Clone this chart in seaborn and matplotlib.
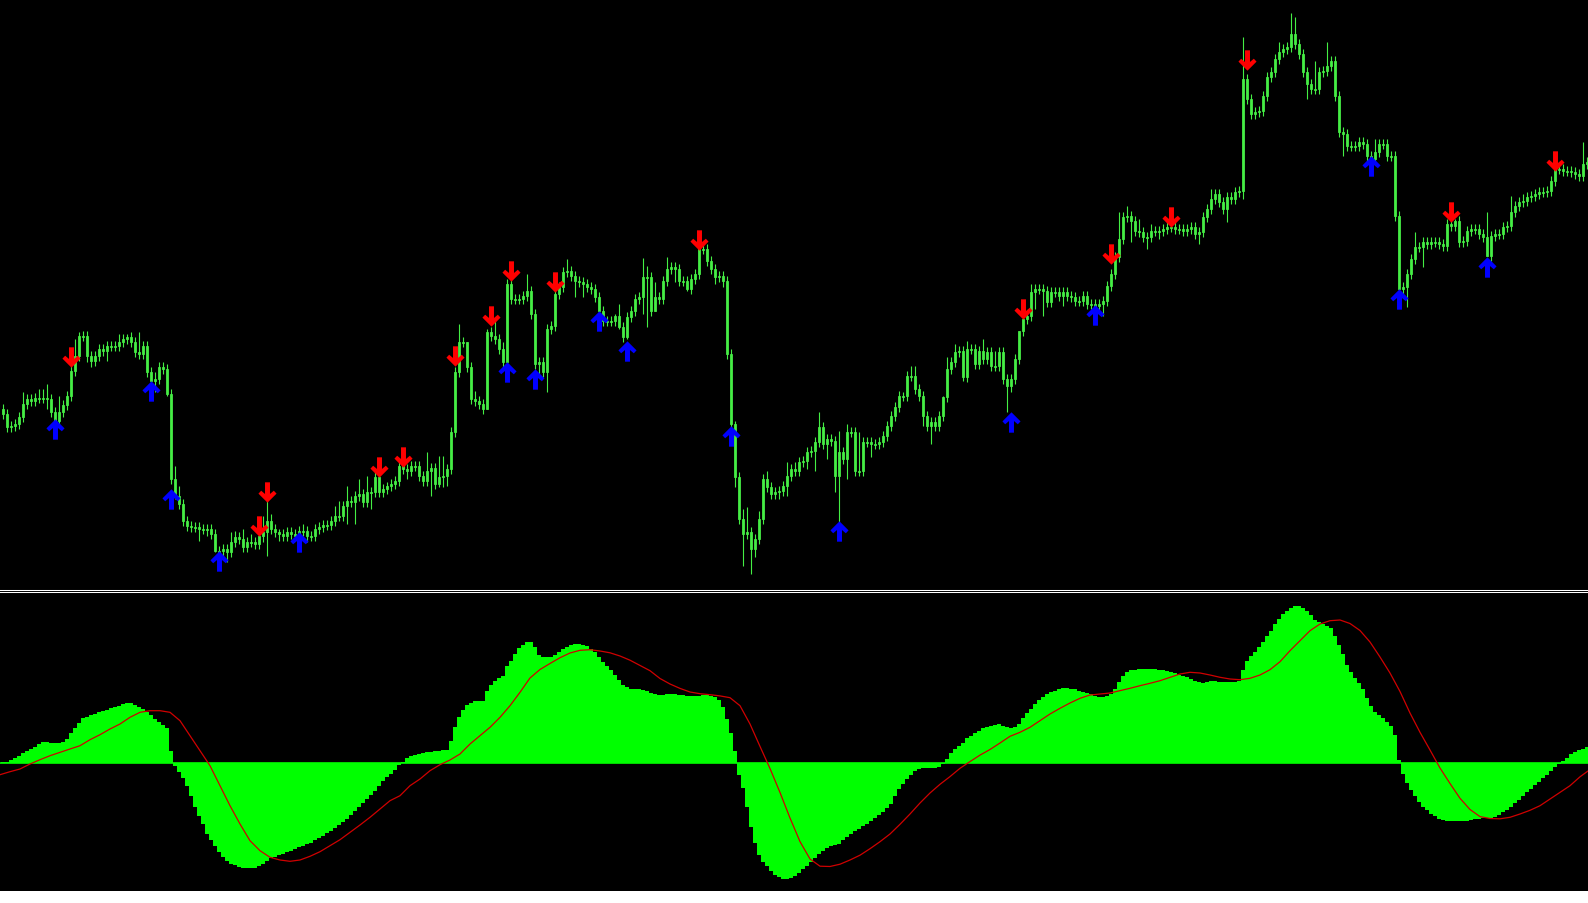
import numpy as np
import matplotlib
matplotlib.use("Agg")
import matplotlib.pyplot as plt
from matplotlib.path import Path
from matplotlib.lines import Line2D
from matplotlib.patches import Rectangle
import seaborn as sns

# closing level of every bar (screen rows, 0 = top)
close_a = [415, 428, 427, 425, 418, 405, 400, 402, 399, 399,
           399, 400, 413, 422, 413, 406, 397, 372, 357, 337,
           337, 357, 362, 357, 350, 352, 347, 347, 347, 343,
           340, 338, 343, 353, 355, 347, 373, 382, 380, 368,
           370, 395, 480, 497, 505, 522, 527, 528, 528, 530,
           530, 530, 535, 552, 552, 550, 553, 543, 538, 540,
           548, 543, 543, 545, 537, 533, 522, 530, 533, 535,
           537, 533, 535, 537, 532, 532, 537, 537, 530, 528,
           526, 526, 522, 517, 517, 507, 502, 503, 497, 495,
           503, 493, 493, 478, 493, 490, 487, 485, 482, 467]
close_b = [470, 472, 467, 467, 477, 482, 472, 469, 485, 478,
           477, 470, 433, 373, 343, 343, 368, 400, 402, 405,
           410, 333, 337, 340, 350, 363, 285, 300, 300, 300,
           297, 292, 315, 365, 363, 373, 330, 327, 295, 288,
           273, 272, 277, 282, 283, 285, 288, 290, 298, 312,
           322, 322, 322, 317, 328, 338, 318, 312, 300, 298,
           278, 278, 312, 298, 300, 282, 270, 268, 270, 282,
           282, 290, 280, 275, 250, 250, 262, 270, 278, 277,
           282, 355, 425, 478, 520, 535, 533, 550, 540, 520,
           480, 488, 495, 493, 492, 487, 477, 470, 472, 463]
close_c = [462, 453, 452, 443, 428, 445, 440, 442, 477, 453,
           460, 433, 433, 472, 472, 443, 443, 445, 445, 443,
           437, 427, 417, 408, 397, 397, 377, 377, 390, 397,
           417, 427, 423, 427, 417, 398, 370, 363, 353, 352,
           378, 350, 350, 365, 352, 360, 353, 367, 367, 353,
           380, 387, 380, 360, 332, 320, 317, 293, 290, 290,
           292, 303, 293, 293, 297, 293, 297, 298, 302, 302,
           297, 305, 305, 307, 305, 302, 287, 275, 258, 240,
           218, 217, 222, 232, 233, 238, 238, 232, 232, 232,
           230, 228, 228, 230, 230, 232, 230, 228, 235, 233]
close_d = [218, 210, 200, 195, 203, 210, 198, 200, 193, 192,
           80, 100, 115, 113, 112, 97, 78, 73, 60, 53,
           50, 48, 35, 45, 55, 73, 85, 90, 90, 73,
           72, 67, 62, 97, 133, 135, 147, 147, 147, 143,
           145, 157, 160, 153, 145, 145, 157, 157, 217, 290,
           288, 275, 260, 248, 248, 243, 245, 243, 243, 245,
           247, 225, 227, 222, 243, 242, 232, 230, 230, 235,
           238, 257, 237, 235, 235, 228, 227, 213, 207, 203,
           202, 198, 197, 195, 193, 193, 192, 182, 170, 170,
           172, 172, 173, 175, 177, 165, 163]
first_open = 410

# long wicks that stand out (bar -> tip level)
wick_top = {5: 393, 9: 390, 10: 390, 11: 385, 14: 397, 18: 340, 19: 333, 29: 335,
            31: 335, 34: 333, 38: 373, 40: 363, 43: 467, 44: 487, 57: 533, 58: 532,
            60: 530, 62: 535, 64: 533, 65: 517, 66: 502, 67: 515, 69: 530, 75: 525,
            83: 507, 84: 502, 86: 487, 89: 480, 91: 477, 94: 473, 96: 483,
            106: 453, 109: 457, 110: 457, 114: 325, 116: 362, 118: 392, 121: 330,
            123: 322, 125: 343, 131: 275, 132: 287, 138: 283, 141: 260, 153: 315,
            154: 305, 160: 259, 161: 267, 163: 283, 166: 258, 174: 248, 183: 422,
            185: 510, 186: 508, 189: 512, 191: 472, 196: 463, 198: 463,
            204: 413, 209: 432, 211: 425, 214: 433, 225: 393, 227: 367, 228: 367,
            235: 397, 236: 358, 238: 345, 241: 342, 245: 340, 248: 352, 254: 350,
            257: 285, 261: 287, 279: 213, 281: 207, 284: 220, 287: 225,
            302: 190, 304: 190, 310: 38, 314: 107, 319: 43, 322: 14, 323: 18,
            328: 62, 331: 43, 343: 140, 353: 233, 361: 220, 363: 220, 367: 225,
            371: 213, 377: 197, 380: 195, 395: 143}
wick_bottom = {11: 410, 13: 425, 21: 363, 22: 368, 26: 362, 34: 360, 37: 400, 38: 393,
               41: 397, 43: 500, 49: 542, 51: 537, 53: 553, 56: 563, 60: 553, 65: 543,
               66: 557, 69: 542, 76: 543, 86: 525, 88: 525, 92: 510,
               101: 480, 107: 497, 109: 488, 110: 488, 111: 487, 121: 372, 134: 375,
               136: 393, 143: 298, 145: 298, 154: 330, 156: 340, 160: 315, 161: 328,
               163: 312, 168: 283, 171: 292, 178: 285, 180: 288, 183: 488, 185: 567,
               187: 575, 188: 558, 194: 500, 196: 497,
               201: 470, 203: 472, 206: 460, 208: 493, 209: 523, 211: 480, 217: 458,
               230: 427, 232: 445, 240: 382, 248: 372, 251: 413, 252: 393, 258: 310,
               260: 317, 265: 307, 275: 317, 282: 243, 286: 250, 289: 240, 299: 245,
               300: 238, 306: 223, 310: 200, 326: 100, 335: 157, 337: 152, 349: 308,
               351: 308, 355: 268, 371: 257}

# signal arrows: bar index and level
sell_bars = [17, 64, 66, 94, 100, 113, 122, 127, 138, 174, 255, 277, 292, 311, 362, 388]
sell_level = [358, 527, 493, 468, 458, 357, 317, 272, 283, 241, 310, 255, 218, 61, 213, 162]
buy_bars = [13, 37, 42, 54, 74, 126, 133, 149, 156, 182, 209, 252, 273, 342, 349, 371]
buy_level = [430, 392, 500, 562, 543, 373, 380, 322, 352, 437, 532, 423, 316, 167, 300, 268]

# oscillator histogram, one value per bar
hist = [1.5, 1.5, 3, 5, 7, 10, 12, 14, 16, 19,
        21, 21, 20, 20, 20, 21, 24, 30, 35, 40,
        44.7, 46.5, 48, 49.5, 51, 52, 53.5, 55, 56, 57.5,
        59, 60, 60, 58, 56.5, 54, 51.5, 48, 44.5, 41,
        38, 35, 12, -3, -9, -15, -23, -33, -44, -53,
        -61, -71, -77, -83, -89, -94, -98, -100.5, -102, -103.5,
        -104.5, -105, -105, -104.5, -103, -100.5, -98, -95, -93.5, -92,
        -90.5, -89, -87.5, -86, -84, -82.5, -81, -79.5, -77, -75,
        -72.5, -70, -67.5, -64.5, -62, -59, -56, -52, -48, -44,
        -40, -36, -32, -28, -23, -18, -14, -11, -7, -2,
        1.3, 5, 7, 8, 9, 10, 11, 11.5, 12, 12.3,
        12.8, 13.3, 22, 36, 46, 53, 58, 60.5, 62, 62.3,
        62.3, 72, 78, 82.3, 85, 87, 96.7, 102, 109, 115,
        118.5, 121.3, 121.3, 115.7, 108, 105.7, 105.7, 106, 108, 111,
        114.5, 116.3, 118, 119, 119, 118, 116.7, 114.5, 111, 106,
        101.5, 97.3, 93, 88.5, 83, 78.5, 75.7, 74.5, 74, 74.5,
        73.5, 72.3, 70.5, 69.2, 68, 68.5, 69, 69.5, 69.5, 68.5,
        68, 67.3, 67, 67, 67.3, 68, 68.3, 67.5, 65.7, 63,
        56, 44, 30, 12.3, -12, -25, -44, -64, -80, -92,
        -98.5, -103, -108, -111.5, -114, -115.5, -116, -114.8, -112.5, -110,
        -106, -103, -98.5, -94.5, -91, -87.7, -85, -82.5, -81.5, -80.5,
        -77, -74, -70.5, -68, -65.5, -63, -60.5, -58, -55, -52,
        -48.5, -44.5, -40.5, -33, -26, -21, -16, -12, -7.7, -6.3,
        -5.3, -5.3, -5.2, -4.7, -3.7, -0.7, 4.3, 10, 14, 17.5,
        20.5, 25, 27.5, 30, 32.5, 35, 36.5, 37.3, 38, 39,
        37.5, 35.7, 35, 36, 39.5, 45, 50, 54, 59.5, 63,
        66.3, 68.8, 71, 72.5, 74, 74.7, 74.7, 74.5, 73.7, 72.5,
        71.3, 70, 68.7, 67.3, 66.3, 65.9, 67.3, 69, 74, 81,
        87, 91.3, 92.8, 93.5, 93.8, 94, 94, 94, 93.8, 93.4,
        93, 92, 91, 89.7, 88.5, 87.3, 86, 84.2, 82.3, 80.7,
        80.3, 81.3, 82.5, 82.3, 81, 81, 81.3, 81.3, 81, 82,
        93, 102, 106.7, 110.7, 116, 121.3, 126.7, 132.3, 139, 144.3,
        148.7, 152.3, 155, 156.7, 156.7, 155, 152.3, 148, 143.3, 140.7,
        139, 137.5, 135, 127, 118.5, 109, 98.5, 91, 85, 80.5,
        74, 65.5, 57.5, 51, 48, 45.5, 41.5, 37, 28, 3,
        -11, -19.5, -26.5, -32.5, -38.5, -43.5, -47.3, -50.5, -53, -55.5,
        -57.2, -57.7, -57.7, -57.7, -57.7, -57.7, -57.6, -56.7, -55.9, -55.5,
        -55.3, -55.3, -54.8, -53.8, -52, -49.3, -46.5, -43.5, -40, -36.7,
        -33, -29.3, -25.5, -22, -18.5, -15, -11.5, -7.7, -4, -0.5,
        2.3, 5.5, 8.8, 11.2, 13.3, 14.5, 15.7]

# signal line, read every 2.5 bars across the pane (last value at the right edge)
signal = [-11.7, -8.7, -6, -1, 3.3, 7.3, 10.7, 14, 17.3, 23.3,
          28.3, 34, 39, 45.7, 50.7, 52.3, 52.3, 50.7, 42.3, 27.3,
          12.3, -2.7, -22.7, -42.7, -61, -77.7, -87.7, -94.3, -97, -98.3,
          -97, -93.3, -88.7, -82.7, -76.7, -69.3, -62, -54.3, -46, -37.7,
          -32.7, -22.7, -16, -7.7, -1.7, 3, 9, 19, 27.3, 35.7,
          45.7, 57.3, 70.7, 85, 93.5, 99.5, 105.3, 110, 112.7, 113.3,
          112, 110.2, 107, 102.8, 97.5, 92.3, 84.5, 79, 74.6, 71,
          69.3, 68.3, 67.1, 65.3, 57.3, 39, 16.6, -5.5, -29.5, -55,
          -78.6, -96, -103.2, -103.5, -101.2, -97, -92.2, -85.7, -78.7, -71,
          -61.3, -51, -40, -30, -21.3, -13.6, -5.3, 1.4, 7.9, 13.5,
          20, 26.7, 30.7, 35.7, 42.3, 49, 54.7, 60, 64.7, 68,
          69, 70, 72.3, 74.7, 77.3, 79.7, 82.3, 85.7, 89, 90.7,
          90, 88, 85.7, 84, 83.3, 84.7, 88, 93.3, 101.3, 112.3,
          122.3, 132.3, 139, 142.3, 143, 139.5, 132.5, 121, 106, 90,
          71.5, 50, 30.7, 13, -5, -20.5, -35.3, -46.5, -53.6, -55.5,
          -55.8, -54.3, -51, -47.3, -42.7, -36, -29.3, -22.7, -13.8, -8]

close = np.array(close_a + close_b + close_c + close_d, dtype=float)
n = len(close)
bars = np.arange(n)
opens = np.concatenate([[first_open], close[:-1]])
body_top = np.minimum(opens, close)
body_bot = np.maximum(opens, close)
top = np.array([min(wick_top.get(i, body_top[i] - 5), body_top[i]) for i in bars])
bot = np.array([max(wick_bottom.get(i, body_bot[i] + 5), body_bot[i]) for i in bars])
sig_bars = np.append(np.arange(len(signal) - 1) * 2.5 - 0.75, n - 0.75)

W, H = 1588, 904
fig = plt.figure(figsize=(W / 100, H / 100), dpi=100, facecolor="black")
ax_p = fig.add_axes([0, 1 - 589 / H, 1, 589 / H])
ax_m = fig.add_axes([0, 12 / H, 1, 299 / H])

# price pane
ax_p.vlines(bars, top, bot, colors="#44ee44", linewidth=0.8)
ax_p.bar(bars, np.maximum(body_bot - body_top, 1), bottom=body_top, width=0.72,
         color="#b8f8b0", edgecolor="#3ae63a", linewidth=0.6)

up = Path([(0, 9), (8, 1), (5.6, -1.6), (2.2, 1.3), (2.2, -9), (-2.2, -9),
           (-2.2, 1.3), (-5.6, -1.6), (-8, 1), (0, 9)], closed=True)
down = Path([(x, -y) for x, y in up.vertices], closed=True)
ax_p.scatter(buy_bars, buy_level, marker=up, s=215, color="#0000ff", linewidths=0, zorder=5)
ax_p.scatter(sell_bars, sell_level, marker=down, s=215, color="#ff0000", linewidths=0, zorder=5)

ax_p.set_xlim(-0.75, n - 0.75)
ax_p.set_ylim(589, 0)
ax_p.axis("off")

# oscillator pane
sns.barplot(x=list(bars), y=hist, ax=ax_m, color="#00ff00", saturation=1, width=1.0,
            errorbar=None, linewidth=0, orient="x")
for p in ax_m.patches:
    p.set_antialiased(False)
ax_m.axhline(0, color="#00ff00", linewidth=1.2, zorder=2)
sns.lineplot(x=sig_bars, y=signal, ax=ax_m, color="#d00000", linewidth=0.9, zorder=4)
ax_m.set_xlim(-0.75, n - 0.75)
ax_m.set_ylim(-128, 171)
ax_m.axis("off")

# pane separator and bottom strip
for row in (590.5, 592.5):
    fig.add_artist(Line2D([0, 1], [1 - row / H] * 2, transform=fig.transFigure,
                          color="white", linewidth=0.75))
fig.add_artist(Rectangle((0, 0), 1, 12 / H, transform=fig.transFigure,
                         color="white", linewidth=0))

fig.savefig("out.png", dpi=100, facecolor="black")
